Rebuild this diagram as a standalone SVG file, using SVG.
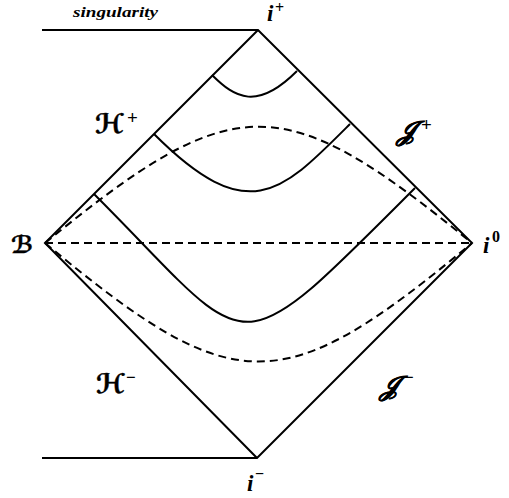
<svg xmlns="http://www.w3.org/2000/svg" width="509" height="498" viewBox="0 0 509 498">
<style>
.s{fill:none;stroke:#000;stroke-width:2;stroke-linecap:butt;stroke-linejoin:miter}
.d{fill:none;stroke:#000;stroke-width:2;stroke-dasharray:8 5}
.t{font-family:"Liberation Serif","Times New Roman",serif;font-weight:bold;font-style:italic;fill:#000}
.sc{font-family:"DejaVu Serif","DejaVu Sans",serif;font-style:italic;font-weight:bold;fill:#000;stroke:#000;stroke-width:0.4}
.sup{font-family:"Liberation Serif",serif;font-weight:bold;fill:#000}
</style>
<rect width="509" height="498" fill="#fff"/>
<g id="frame">
<path class="s" d="M42,30 H258 L472,243 L257,458 H42"/>
<path class="s" d="M258,30 L45,243 L257,458"/>
</g>
<g id="connectors">
<path class="d" d="M45,243 H472"/>
<path class="d" d="M45,243 C235,88 282,88 472,243"/>
<path class="d" d="M45,243 C235,401 282,401 472,243"/>
<path class="s" d="M212,75 C235,98 257,111 297,71"/>
<path class="s" d="M154,134 C249,229 282,192 350,124"/>
<path class="s" d="M94,194 C256,356 228,375 415,188"/>
</g>
<g id="labels">
<text class="t" x="73" y="17" font-size="15" textLength="85" lengthAdjust="spacingAndGlyphs">singularity</text>
<text class="t" x="267" y="21" font-size="23">i</text><text class="sup" x="275" y="13" font-size="16">+</text>
<text class="t" x="483" y="253" font-size="23">i</text><text class="sup" x="492" y="242" font-size="16">0</text>
<text class="t" x="247" y="491" font-size="23">i</text><text class="sup" x="255" y="479" font-size="16">−</text>
<text class="sc" x="11" y="253" font-size="24">ℬ</text>
<text class="sc" x="95" y="133" font-size="27">ℋ</text><text class="sup" x="127" y="124" font-size="19">+</text>
<text class="sc" x="397" y="140" font-size="27">𝒥</text><text class="sup" x="421" y="131" font-size="19">+</text>
<text class="sc" x="96" y="393" font-size="27">ℋ</text><text class="sup" x="126" y="383" font-size="17">−</text>
<text class="sc" x="380" y="395" font-size="27">𝒥</text><text class="sup" x="404" y="383" font-size="17">−</text>
</g>
</svg>
